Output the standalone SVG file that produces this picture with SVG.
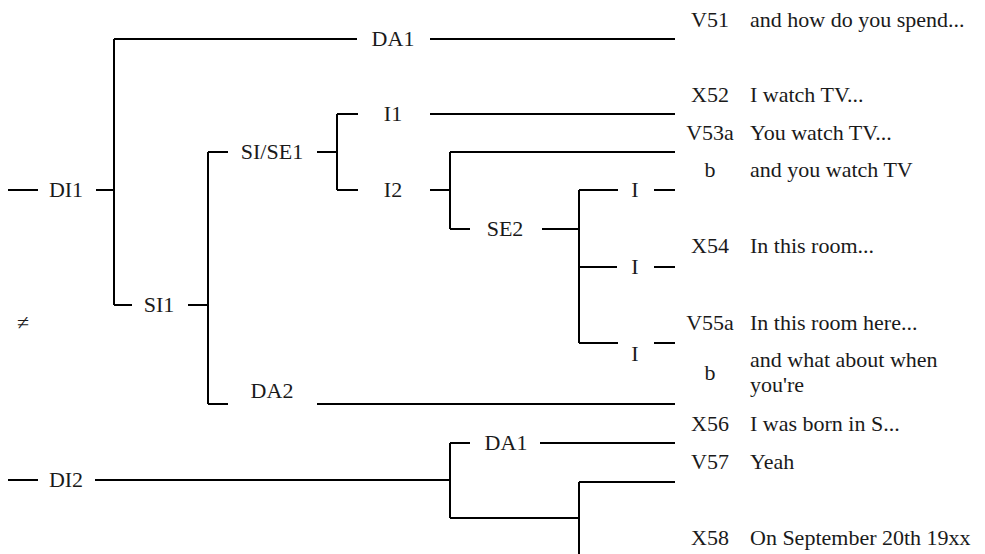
<svg xmlns="http://www.w3.org/2000/svg" width="985" height="554" viewBox="0 0 985 554">
<style>
  .c { stroke: #000; stroke-width: 2; fill: none; stroke-linecap: butt; }
  text { font-family: "Liberation Serif", "Times New Roman", serif; font-size: 22px; fill: #1a1a1a; }
  .n { text-anchor: middle; }
  .code { text-anchor: middle; }
</style>
<rect width="985" height="554" fill="#fff"/>
<g id="connectors" class="c">
  <path d="M8 190H38M96 190H114"/>
  <path d="M114 39V305"/>
  <path d="M114 39H357M430 39H675"/>
  <path d="M114 305H132M188 305H208"/>
  <path d="M208 152V404"/>
  <path d="M208 152H228M317 152H337"/>
  <path d="M337 114V190"/>
  <path d="M337 114H358M430 114H675"/>
  <path d="M337 190H358M430 190H450"/>
  <path d="M450 152V229"/>
  <path d="M450 152H675"/>
  <path d="M450 229H470M542 229H579"/>
  <path d="M579 190V343"/>
  <path d="M579 190H618M654 190H675"/>
  <path d="M579 267H617M654 267H675"/>
  <path d="M579 343H618M654 343H675"/>
  <path d="M208 404H228M317 404H675"/>
  <path d="M8 480H38M95 480H450"/>
  <path d="M450 443V518"/>
  <path d="M450 443H470M540 443H675"/>
  <path d="M450 518H579"/>
  <path d="M579 482V554"/>
  <path d="M579 482H675"/>
</g>
<g id="node-DI1"><text class="n" x="66" y="197">DI1</text></g>
<g id="node-DA1-top"><text class="n" x="393" y="46">DA1</text></g>
<g id="node-SI1"><text class="n" x="159" y="312">SI1</text></g>
<g id="node-SISE1"><text class="n" x="272" y="159">SI/SE1</text></g>
<g id="node-I1"><text class="n" x="393" y="121">I1</text></g>
<g id="node-I2"><text class="n" x="393" y="197">I2</text></g>
<g id="node-SE2"><text class="n" x="505" y="236">SE2</text></g>
<g id="node-I-a"><text class="n" x="635" y="197">I</text></g>
<g id="node-I-b"><text class="n" x="635" y="274">I</text></g>
<g id="node-I-c"><text class="n" x="635" y="361">I</text></g>
<g id="node-DA2"><text class="n" x="272" y="398">DA2</text></g>
<g id="node-DI2"><text class="n" x="66" y="487">DI2</text></g>
<g id="node-DA1-bottom"><text class="n" x="506" y="450">DA1</text></g>
<g id="neq"><text class="n" x="23" y="330">≠</text></g>
<g id="utt-V51"><text class="code" x="710" y="27">V51</text><text x="750" y="27">and how do you spend...</text></g>
<g id="utt-X52"><text class="code" x="710" y="102">X52</text><text x="750" y="102">I watch TV...</text></g>
<g id="utt-V53a"><text class="code" x="710" y="140">V53a</text><text x="750" y="140">You watch TV...</text></g>
<g id="utt-V53b"><text class="code" x="710" y="177">b</text><text x="750" y="177">and you watch TV</text></g>
<g id="utt-X54"><text class="code" x="710" y="253">X54</text><text x="750" y="253">In this room...</text></g>
<g id="utt-V55a"><text class="code" x="710" y="330">V55a</text><text x="750" y="330">In this room here...</text></g>
<g id="utt-V55b"><text class="code" x="710" y="380">b</text><text x="750" y="367">and what about when</text><text x="750" y="392">you're</text></g>
<g id="utt-X56"><text class="code" x="710" y="431">X56</text><text x="750" y="431">I was born in S...</text></g>
<g id="utt-V57"><text class="code" x="710" y="469">V57</text><text x="750" y="469">Yeah</text></g>
<g id="utt-X58"><text class="code" x="710" y="545">X58</text><text x="750" y="545">On September 20th 19xx</text></g>
</svg>
